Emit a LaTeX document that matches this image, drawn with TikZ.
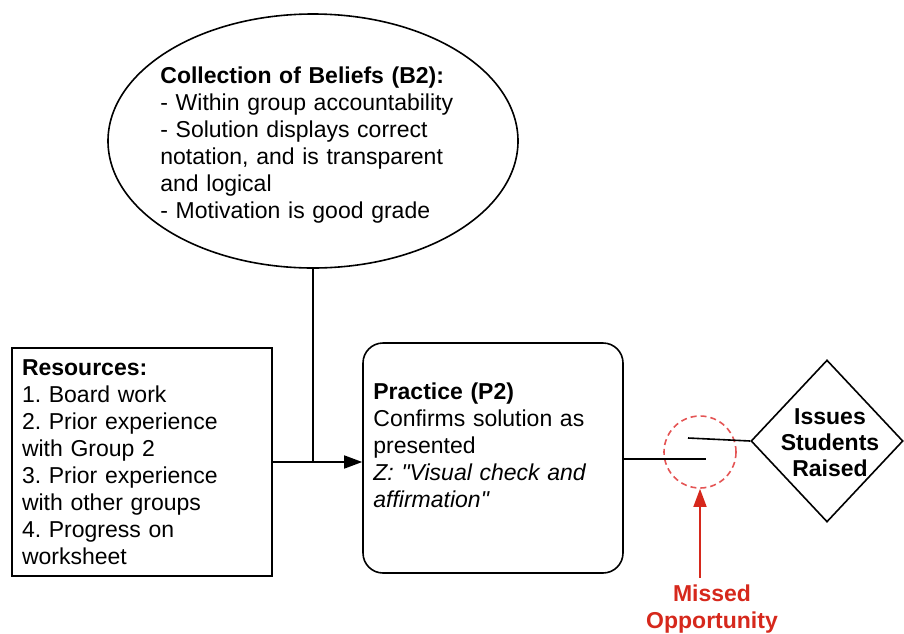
\documentclass[tikz,border=0pt]{standalone}
\usepackage{fontspec}
\setmainfont{Liberation Sans}
\usepackage{xcolor}
\usetikzlibrary{shapes.geometric,arrows.meta}
\definecolor{missred}{RGB}{214,40,28}
\definecolor{circred}{RGB}{228,84,84}
\frenchspacing

\begin{document}
\begin{tikzpicture}[x=0.5pt,y=-0.5pt,
  font=\fontsize{11.5}{13.5}\selectfont,
  line/.style={line width=0.8pt},
  box/.style={draw,line width=0.8pt,inner sep=0pt},
  words/.style={inner sep=0pt,align=left},
  tip/.style={-{Triangle[length=9pt,width=6.5pt]}}]
  \useasboundingbox (0,0) rectangle (904,633);
  \node[box,ellipse,minimum width=205pt,minimum height=127pt] (B) at (313,141) {};
  \node[words,anchor=north west,text width=150pt] (Btext) at (160,66) {\textbf{Collection of Beliefs (B2):}\\
    - Within group accountability\\
    - Solution displays correct\\
    notation, and is transparent\\
    and logical\\
    - Motivation is good grade};
  \node[box,text width=120pt,inner xsep=5pt,minimum height=114pt,align=left] (R) at (142,462) {\textbf{Resources:}\\
    1. Board work\\
    2. Prior experience\\
    with Group 2\\
    3. Prior experience\\
    with other groups\\
    4. Progress on\\
    worksheet};
  \node[box,rounded corners=10pt,minimum width=130pt,minimum height=115pt] (P) at (493,458) {};
  \node[words,anchor=north west,text width=120pt] (Ptext) at (373,382) {\textbf{Practice (P2)}\\
    Confirms solution as\\
    presented\\
    \textit{Z: \textquotedbl Visual check and}\\
    \textit{affirmation\textquotedbl}};
  \node[box,diamond,minimum width=76pt,minimum height=81pt] (I) at (827,441) {};
  \node[align=center,font=\fontsize{11.5}{13}\selectfont\bfseries] (Itext) at (830,443) {Issues\\Students\\Raised};
  \node[circle,draw=circred,line width=0.8pt,dash pattern=on 3pt off 2pt,minimum size=36pt,inner sep=0pt] (M) at (700,452) {};
  \node[text=missred,align=center,font=\fontsize{11.5}{13.5}\selectfont\bfseries] (Mtext) at (712,609) {Missed\\Opportunity};
  \coordinate (gapL) at (706,459);
  \coordinate (gapR) at (688,438);
  \coordinate (J) at (B.south |- R.east);
  \draw[line] (B.south) -- (J);
  \draw[line,tip] (R.east) -- (R.east -| P.west);
  \draw[line] (P.east |- gapL) -- (gapL);
  \draw[line] (gapR) -- (I.west);
  \draw[line,missred,tip] (Mtext.north -| M.south) -- (M.south);
\end{tikzpicture}
\end{document}
